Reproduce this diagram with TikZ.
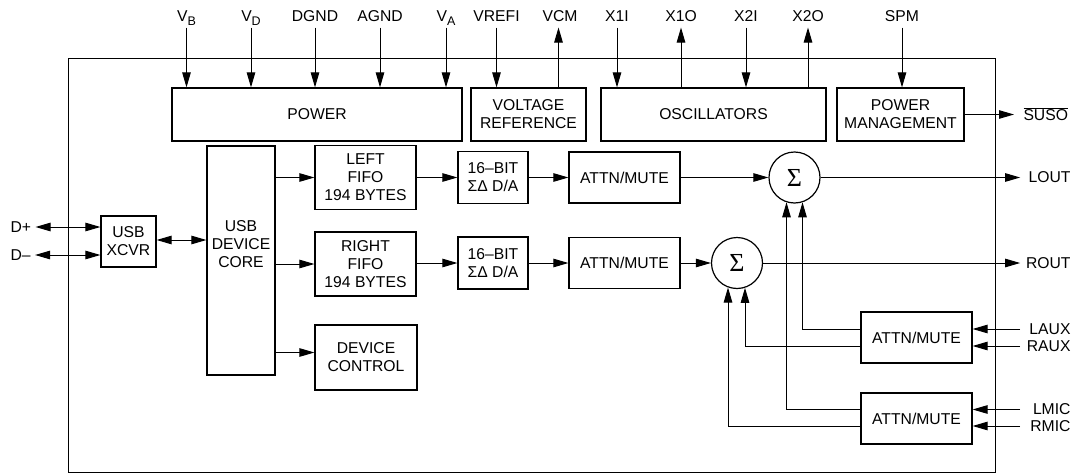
\documentclass[tikz,border=0pt]{standalone}
\usepackage{fontspec}
\setmainfont{Liberation Sans}
\newfontfamily\sigfont{Liberation Serif}
\usetikzlibrary{arrows.meta,calc}
\newcommand\vsub[1]{V\raisebox{-4pt}{\fontsize{12.5}{12.5}\selectfont #1}}
\begin{document}
\begin{tikzpicture}[x=1pt,y=-1pt,
  font=\fontsize{15.7}{18}\selectfont,
  line width=1pt,
  blk/.style={draw, line width=1.2pt, align=center, inner sep=0pt},
  arr/.style={-{Triangle[length=15pt,width=8.5pt]}},
  darr/.style={{Triangle[length=15pt,width=8.5pt]}-{Triangle[length=15pt,width=8.5pt]}},
  pin/.style={anchor=base, inner sep=0pt},
  lbl/.style={inner sep=0pt},
  sig/.style={draw, line width=1.2pt, circle, minimum size=51pt, inner sep=0pt, font=\sigfont\fontsize{26}{26}\selectfont}]
\useasboundingbox (0,0) rectangle (1074,474);

% frame
\node[draw, line width=1pt, minimum width=927.5pt, minimum height=414pt, inner sep=0pt] (frame) at (531.9,265) {};

% top row blocks
\node[blk, minimum width=290pt, minimum height=53pt] (power) at (317,114.5) {POWER};
\node[blk, minimum width=115pt, minimum height=53pt] (vref) at (528.5,114.5) {VOLTAGE\\REFERENCE};
\node[blk, minimum width=225pt, minimum height=53pt] (osc) at (713.5,114.5) {OSCILLATORS};
\node[blk, minimum width=127pt, minimum height=53pt] (pm) at (900.5,114.5) {POWER\\MANAGEMENT};

% pins
\node[pin] (vb) at (186.5,21.5) {\vsub{B}};
\node[pin] (vd) at (251,21.5) {\vsub{D}};
\node[pin] (dgnd) at (315,21.5) {DGND};
\node[pin] (agnd) at (380,21.5) {AGND};
\node[pin] (va) at (446,21.5) {\vsub{A}};
\node[pin] (vrefi) at (496.5,21.5) {VREFI};
\node[pin] (vcm) at (560,21.5) {VCM};
\node[pin] (xoi) at (617,21.5) {X1I};
\node[pin] (xoo) at (681,21.5) {X1O};
\node[pin] (xti) at (746,21.5) {X2I};
\node[pin] (xto) at (808,21.5) {X2O};
\node[pin] (spm) at (902,21.5) {SPM};

\foreach \p in {vb,vd,dgnd,agnd,va}
  \draw[arr] ([yshift=-6pt]\p.base) -- (\p.base |- power.north);
\draw[arr] ([yshift=-6pt]vrefi.base) -- (vrefi.base |- vref.north);
\draw[arr] ([xshift=-1.5pt]vcm.base |- vref.north) -- ([xshift=-1.5pt,yshift=-6pt]vcm.base);
\draw[arr] ([yshift=-6pt]xoi.base) -- (xoi.base |- osc.north);
\draw[arr] (xoo.base |- osc.north) -- ([yshift=-6pt]xoo.base);
\draw[arr] ([yshift=-6pt]xti.base) -- (xti.base |- osc.north);
\draw[arr] (xto.base |- osc.north) -- ([yshift=-6pt]xto.base);
\draw[arr] ([yshift=-6pt]spm.base) -- (spm.base |- pm.north);

% SUSO
\node[lbl, anchor=west] (suso) at (1023,114.5) {$\overline{\mbox{SUSO}}$};
\draw[arr] (pm.east) -- ([xshift=-9pt]suso.west);

% USB
\node[lbl, anchor=west] (dp) at (10,227) {D+};
\node[lbl, anchor=west] (dm) at (10,255) {D–};
\node[blk, minimum width=55pt, minimum height=51pt] (xcvr) at (128.5,241.5) {USB\\XCVR};
\node[blk, minimum width=68pt, minimum height=229pt,
  label={[align=center, inner sep=0pt, yshift=16.5pt]center:USB\\DEVICE\\CORE}] (core) at (241,260.5) {};
\draw[darr] ([xshift=4pt]dp.east) -- (dp.east -| xcvr.west);
\draw[darr] ([xshift=4pt]dm.east) -- (dm.east -| xcvr.west);
\draw[darr] ([yshift=1.5pt]xcvr.east) -- ([yshift=1.5pt]xcvr.east -| core.west);

% FIFOs and control
\node[blk, minimum width=101pt, minimum height=64pt] (lfifo) at (365.5,177.5) {LEFT\\FIFO\\194 BYTES};
\node[blk, minimum width=101pt, minimum height=64pt] (rfifo) at (365.5,264) {RIGHT\\FIFO\\194 BYTES};
\node[blk, minimum width=102pt, minimum height=65pt] (dctl) at (366,357.5) {DEVICE\\CONTROL};
\coordinate (dcin) at ([yshift=5pt]dctl.west);
\draw[arr] (core.east |- lfifo) -- (lfifo.west);
\draw[arr] (core.east |- rfifo) -- (rfifo.west);
\draw[arr] (core.east |- dcin) -- (dcin);

% DAC, attenuators, sums
\node[blk, minimum width=70pt, minimum height=52pt] (dacL) at (493,177.5) {16–BIT\\ΣΔ D/A};
\node[blk, minimum width=70pt, minimum height=52pt] (dacR) at (493,263) {16–BIT\\ΣΔ D/A};
\node[blk, minimum width=111pt, minimum height=51pt] (attL) at (624.5,177.5) {ATTN/MUTE};
\node[blk, minimum width=111pt, minimum height=51pt] (attR) at (624.5,263) {ATTN/MUTE};
\node[sig] (sigL) at (794.5,177.5) {Σ};
\node[sig] (sigR) at (737,263) {Σ};

\draw[arr] (lfifo) -- (dacL);
\draw[arr] (rfifo.east |- dacR) -- (dacR);
\draw[arr] (dacL) -- (attL);
\draw[arr] (dacR) -- (attR);
\draw[arr] (attL) -- (sigL);
\draw[arr] (attR) -- (sigR);

% outputs
\node[lbl, anchor=east] (lout) at (1071,177.5) {LOUT};
\node[lbl, anchor=east] (rout) at (1071,263) {ROUT};
\draw[arr] (sigL.east) -- ($(frame.east |- sigL.east)+(24,0)$);
\draw[arr] (sigR.east) -- ($(frame.east |- sigR.east)+(24,0)$);

% aux / mic
\node[blk, minimum width=111pt, minimum height=51pt] (auxA) at (916.5,337.5) {ATTN/MUTE};
\node[blk, minimum width=111pt, minimum height=51pt] (micA) at (916.5,418.5) {ATTN/MUTE};
\node[lbl, anchor=east] (laux) at (1071,329) {LAUX};
\node[lbl, anchor=east] (raux) at (1071,346) {RAUX};
\node[lbl, anchor=east] (lmic) at (1071,409.5) {LMIC};
\node[lbl, anchor=east] (rmic) at (1071,426) {RMIC};
\foreach \s/\b in {laux/auxA, raux/auxA, lmic/micA, rmic/micA}
  \draw[arr] ($(frame.east |- \s)+(24,0)$) -- (\s -| \b.east);

\draw[arr] (auxA.west |- laux) -| ($(sigL.south)+(8,-1.3)$);
\draw[arr] (micA.west |- lmic) -| ($(sigL.south)+(-8,-1.3)$);
\draw[arr] (auxA.west |- raux) -| ($(sigR.south)+(8,-1.3)$);
\draw[arr] (micA.west |- rmic) -| ($(sigR.south)+(-9,-1.6)$);
\end{tikzpicture}
\end{document}
